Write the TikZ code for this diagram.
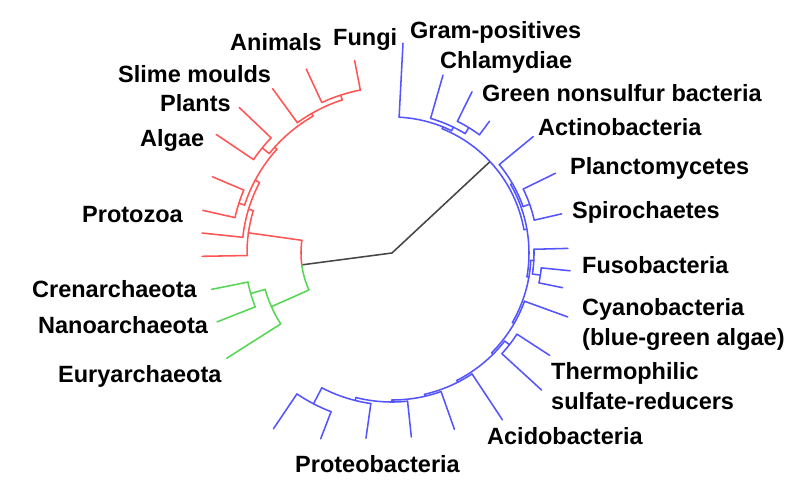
\documentclass[tikz,border=0pt]{standalone}
\usepackage{fontspec}
\setmainfont{Liberation Sans}
\definecolor{tred}{RGB}{255,85,85}
\definecolor{tgreen}{RGB}{85,215,85}
\definecolor{tblue}{RGB}{85,85,255}
\definecolor{troot}{RGB}{70,70,70}
\newcommand\brleaf[3]{\draw (#1:#2pt) -- (#1:#3pt);}
\newcommand\brarc[3]{\draw (#2:#1pt) arc[start angle=#2,end angle=#3,radius=#1pt];}
\begin{document}
\begin{tikzpicture}[x=1pt,y=1pt,
  lbl/.style={font=\fontsize{23.5}{30}\selectfont\bfseries, inner sep=0pt, anchor=base west},
  lbl2/.style={font=\fontsize{23.5}{30}\selectfont\bfseries, inner sep=0pt, anchor=west, align=left},
  br/.style={line width=1.55pt, line cap=round, line join=round}]
\useasboundingbox (0,0) rectangle (800,500);
\fill[white] (0,0) rectangle (800,500);
\begin{scope}[shift={(392,247)}]
\coordinate (root) at (0,0);
\coordinate (eukarch) at (187.5:91pt);
\coordinate (bact) at (43:134pt);
\draw[br,troot] (eukarch) -- (root) -- (bact);
% Eukaryotes
\begin{scope}[br,tred]
\brarc{91}{187.5}{172}
\brleaf{172}{91}{145}
\brarc{145}{181}{163}
\brleaf{181}{145}{190}
\brleaf{163}{145}{150}
\brarc{150}{174}{152}
\brleaf{174}{150}{191}
\brleaf{152}{150}{155}
\brarc{155}{162}{138}
\brleaf{162}{155}{161}
\brarc{161}{167.3}{157}
\brleaf{167.3}{161}{194}
\brleaf{157}{161}{195}
\brleaf{138}{155}{158}
\brarc{158}{141}{120}
\brleaf{141}{158}{167}
\brarc{167}{136.4}{146}
\brleaf{136.4}{167}{211}
\brleaf{146}{167}{212}
\brleaf{120}{158}{161}
\brarc{161}{126}{108}
\brleaf{126}{161}{203}
\brleaf{108}{161}{166}
\brarc{166}{115}{101}
\brleaf{115}{166}{203}
\brleaf{101}{166}{196}
\end{scope}
% Archaea
\begin{scope}[br,tgreen]
\brarc{91}{187.5}{204}
\brleaf{204}{91}{132}
\brarc{132}{196}{212.5}
\brleaf{212.5}{132}{196}
\brleaf{196}{132}{147}
\brarc{147}{191.4}{201.5}
\brleaf{191.4}{147}{184}
\brleaf{201.5}{147}{188}
\end{scope}
% Bacteria
\begin{scope}[br,tblue]
\brarc{134}{68}{10}
\brleaf{68}{134}{136}
\brarc{136}{87}{64}
\brleaf{87}{136}{210}
\brleaf{64}{136}{140}
\brarc{140}{74}{58.5}
\brleaf{74}{140}{185}
\brleaf{58.5}{140}{147}
\brarc{147}{63.6}{53.5}
\brleaf{63.6}{147}{180}
\brleaf{53.5}{147}{164}
\brleaf{10}{134}{137}
\brarc{137}{30}{-10}
\brleaf{30}{137}{139}
\brarc{139}{39.5}{19.5}
\brleaf{39.5}{139}{183}
\brleaf{19.5}{139}{146}
\brarc{146}{26}{13}
\brleaf{26}{146}{182}
\brleaf{13}{146}{174}
\brleaf{-10}{137}{139}
\brarc{139}{-3}{-30}
\brleaf{-3}{139}{142}
\brarc{142}{1.5}{-8.5}
\brleaf{1.5}{142}{176}
\brleaf{-8.5}{142}{150}
\brarc{150}{-5.7}{-11.5}
\brleaf{-5.7}{150}{179}
\brleaf{-11.5}{150}{174}
\brleaf{-30}{139}{141}
\brarc{141}{-20}{-45}
\brleaf{-20}{141}{187}
\brleaf{-45}{141}{143}
\brarc{143}{-38}{-63}
\brleaf{-38}{143}{149}
\brarc{149}{-33}{-42.5}
\brleaf{-33}{149}{188}
\brleaf{-42.5}{149}{203}
\brleaf{-63}{143}{145}
\brarc{145}{-56.5}{-77}
\brleaf{-56.5}{145}{200}
\brleaf{-77}{145}{147}
\brarc{147}{-70.5}{-90}
\brleaf{-70.5}{147}{187}
\brleaf{-90}{147}{149}
\brarc{149}{-84}{-104}
\brleaf{-84}{149}{185}
\brleaf{-104}{149}{152}
\brarc{152}{-98}{-117.5}
\brleaf{-98}{152}{187}
\brleaf{-117.5}{152}{170}
\brarc{170}{-111}{-124}
\brleaf{-111}{170}{199}
\brleaf{-124}{170}{212}
\end{scope}
\end{scope}
% Labels
\node[lbl] (fungi) at (333,454) {Fungi};
\node[lbl] (animals) at (230,449) {Animals};
\node[lbl] (slime) at (118,417) {Slime moulds};
\node[lbl] (plants) at (160,388) {Plants};
\node[lbl] (algae) at (140,353) {Algae};
\node[lbl] (protozoa) at (82,277) {Protozoa};
\node[lbl] (cren) at (32,202) {Crenarchaeota};
\node[lbl] (nano) at (38,166) {Nanoarchaeota};
\node[lbl] (eury) at (58,117) {Euryarchaeota};
\node[lbl] (gram) at (410,461) {Gram-positives};
\node[lbl] (chlam) at (440,431) {Chlamydiae};
\node[lbl] (gns) at (482,398) {Green nonsulfur bacteria};
\node[lbl] (actino) at (538,364) {Actinobacteria};
\node[lbl] (planc) at (570,325) {Planctomycetes};
\node[lbl] (spiro) at (572,281) {Spirochaetes};
\node[lbl] (fuso) at (582,226) {Fusobacteria};
\node[lbl2] (cyano) at (582,175.5) {Cyanobacteria\\(blue-green algae)};
\node[lbl2] (thermo) at (551,114) {Thermophilic\\sulfate-reducers};
\node[lbl] (acido) at (487,55) {Acidobacteria};
\node[lbl] (proteo) at (295,27) {Proteobacteria};
\end{tikzpicture}
\end{document}
